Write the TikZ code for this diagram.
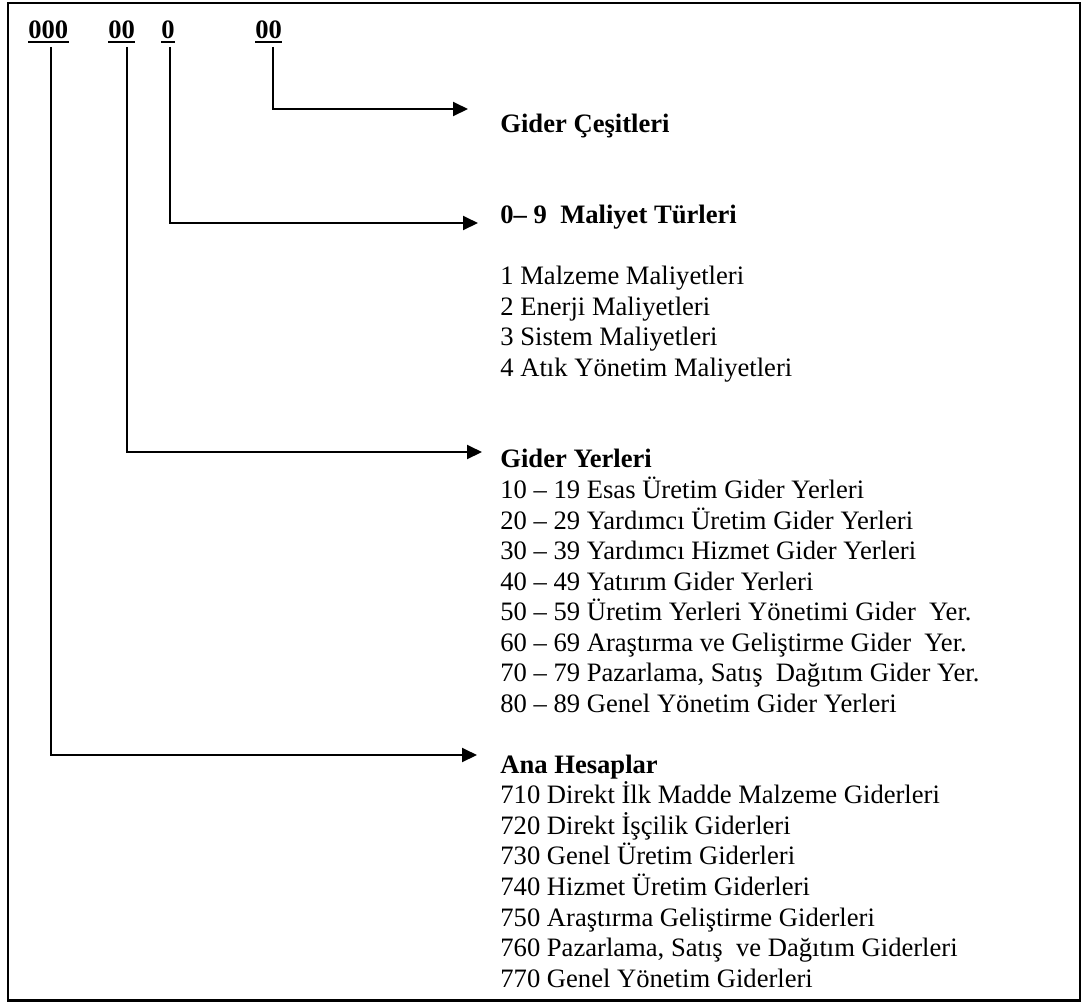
\documentclass[tikz,border=0pt]{standalone}
\usepackage{fontspec}
\setmainfont{Liberation Serif}
\usetikzlibrary{arrows.meta}
\begin{document}
\begin{tikzpicture}[x=0.5pt,y=-0.5pt,
  txt/.style={anchor=base west, inner sep=0pt, font=\fontsize{13.3pt}{15.3pt}\selectfont},
  head/.style={txt, font=\fontsize{13.3pt}{15.3pt}\selectfont\bfseries},
  code/.style={head},
  uline/.style={line width=1.3pt},
  link/.style={line width=1pt, -{Triangle[length=7.5pt,width=7pt]}},
  frame/.style={line width=1.3pt}]
\useasboundingbox (0,0) rectangle (1084,1003);
\draw[frame] (8,3) rectangle (1080,1000.5);

% code digits of the account number
\node[code] (c1) at (28,38) {000};
\node[code] (c2) at (108,38) {00};
\node[code] (c3) at (161,38) {0};
\node[code] (c4) at (255,38) {00};
\foreach \c in {c1,c2,c3,c4}
  \draw[uline] ([yshift=-2pt]\c.base west) -- ([yshift=-2pt]\c.base east);

% headings
\def\ls{30.54}
\node[head] (h1) at (500,132) {Gider Çeşitleri};
\node[head] (h2) at (500,{132+3*\ls}) {0– 9\ \ Maliyet Türleri};
\node[head] (h3) at (500,{132+11*\ls}) {Gider Yerleri};
\node[head] (h4) at (500,{132+21*\ls}) {Ana Hesaplar};

% cost types
\foreach \t [count=\i from 5] in {{1 Malzeme Maliyetleri},{2 Enerji Maliyetleri},
    {3 Sistem Maliyetleri},{4 Atık Yönetim Maliyetleri}}
  \node[txt] (m\i) at (500,{132+\i*\ls}) {\t};

% cost centres
\foreach \t [count=\i from 12] in {{10 – 19 Esas Üretim Gider Yerleri},
    {20 – 29 Yardımcı Üretim Gider Yerleri},
    {30 – 39 Yardımcı Hizmet Gider Yerleri},
    {40 – 49 Yatırım Gider Yerleri},
    {50 – 59 Üretim Yerleri Yönetimi Gider\ \ Yer.},
    {60 – 69 Araştırma ve Geliştirme Gider\ \ Yer.},
    {70 – 79 Pazarlama, Satış\ \ Dağıtım Gider Yer.},
    {80 – 89 Genel Yönetim Gider Yerleri}}
  \node[txt] (y\i) at (500,{132+\i*\ls}) {\t};

% main accounts
\foreach \t [count=\i from 22] in {{710 Direkt İlk Madde Malzeme Giderleri},
    {720 Direkt İşçilik Giderleri},
    {730 Genel Üretim Giderleri},
    {740 Hizmet Üretim Giderleri},
    {750 Araştırma Geliştirme Giderleri},
    {760 Pazarlama, Satış\ \ ve Dağıtım Giderleri},
    {770 Genel Yönetim Giderleri}}
  \node[txt] (a\i) at (500,{132+\i*\ls}) {\t};

% arrow ends
\coordinate (e1) at (468,109);
\coordinate (e2) at (478,223);
\coordinate (e3) at (482,452);
\coordinate (e4) at (477,755);

% connectors
\draw[link] ([xshift=2.2pt,yshift=-4.4pt]c4.base) |- (e1);
\draw[link] ([xshift=1.2pt,yshift=-4.4pt]c3.base) |- (e2);
\draw[link] ([xshift=2.5pt,yshift=-4.4pt]c2.base) |- (e3);
\draw[link] ([xshift=1.5pt,yshift=-4.4pt]c1.base) |- (e4);
\end{tikzpicture}
\end{document}
